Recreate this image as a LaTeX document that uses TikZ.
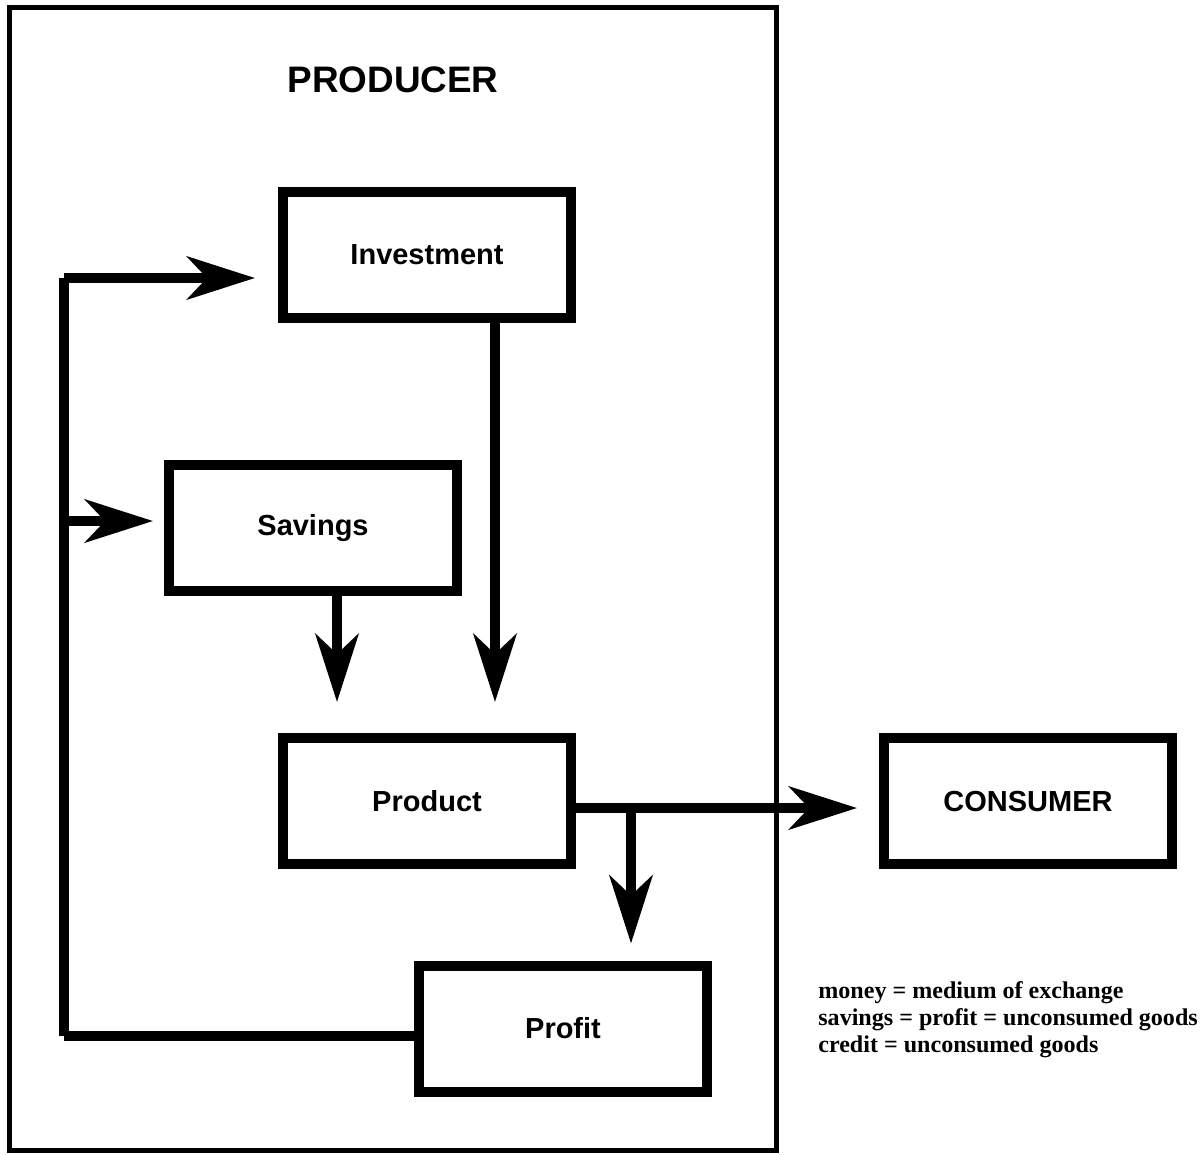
\documentclass[tikz,border=0pt]{standalone}
\usepackage{fontspec}
\setmainfont{Liberation Serif}
\setsansfont{Liberation Sans}
\usetikzlibrary{arrows.meta,positioning}

\begin{document}
\begin{tikzpicture}[x=0.02cm,y=-0.02cm,font=\sffamily\bfseries]
  \tikzset{box/.style={draw,line width=0.2cm,minimum width=5.76cm,minimum height=2.52cm,align=center,font=\sffamily\bfseries\fontsize{16.5}{20}\selectfont}}
  \tikzset{flow/.style={-{Stealth[length=1.36cm,width=0.86cm,inset=0.4cm]},line width=0.2cm}}
  \useasboundingbox (0,0) rectangle (1202,1154);
  \node[draw,line width=0.1cm,minimum width=15.36cm,minimum height=22.87cm] (producer) at (393,579.25) {};
  \node[font=\sffamily\bfseries\fontsize{21}{25}\selectfont] (ptitle) at (393,80) {PRODUCER};
  \node[box] (invest) at (427,255) {Investment};
  \node[box] (savings) at (313,528) {Savings};
  \node[box] (product) at (427,801) {Product};
  \node[box] (profit) at (563,1028.5) {Profit};
  \node[box] (consumer) at (1028,801) {CONSUMER};
  \coordinate (br) at (631,808);
  \coordinate (lb) at (63.5,1036);
  \coordinate (lt) at (63.5,278);
  \coordinate (ls) at (63.5,521);
  \coordinate (sv) at ([xshift=0.48cm]savings.south);
  \coordinate (iv) at ([xshift=1.36cm]invest.south);
  \draw[flow,shorten >=0.62cm] (iv) -- (iv |- product.north);
  \draw[flow,shorten >=0.62cm] (sv) -- (sv |- product.north);
  \draw[flow,shorten >=0.44cm] (product.east |- br) -- (consumer.west |- br);
  \draw[flow,shorten >=0.34cm] (br) -- (br |- profit.north);
  \draw[line width=0.2cm] (profit.west |- lb) -- (lb);
  \draw[line width=0.2cm] (lb) -- (lt);
  \draw[flow,shorten >=0.46cm] (lt) -- (invest.west |- lt);
  \draw[flow,shorten >=0.22cm] (ls) -- (savings.west |- ls);
  \node[anchor=north west,inner sep=0,align=left,font=\rmfamily\bfseries\fontsize{13.7}{15.5}\selectfont] (notes) at (818,981) {money = medium of exchange\\savings = profit = unconsumed goods\\credit = unconsumed goods};
\end{tikzpicture}
\end{document}
